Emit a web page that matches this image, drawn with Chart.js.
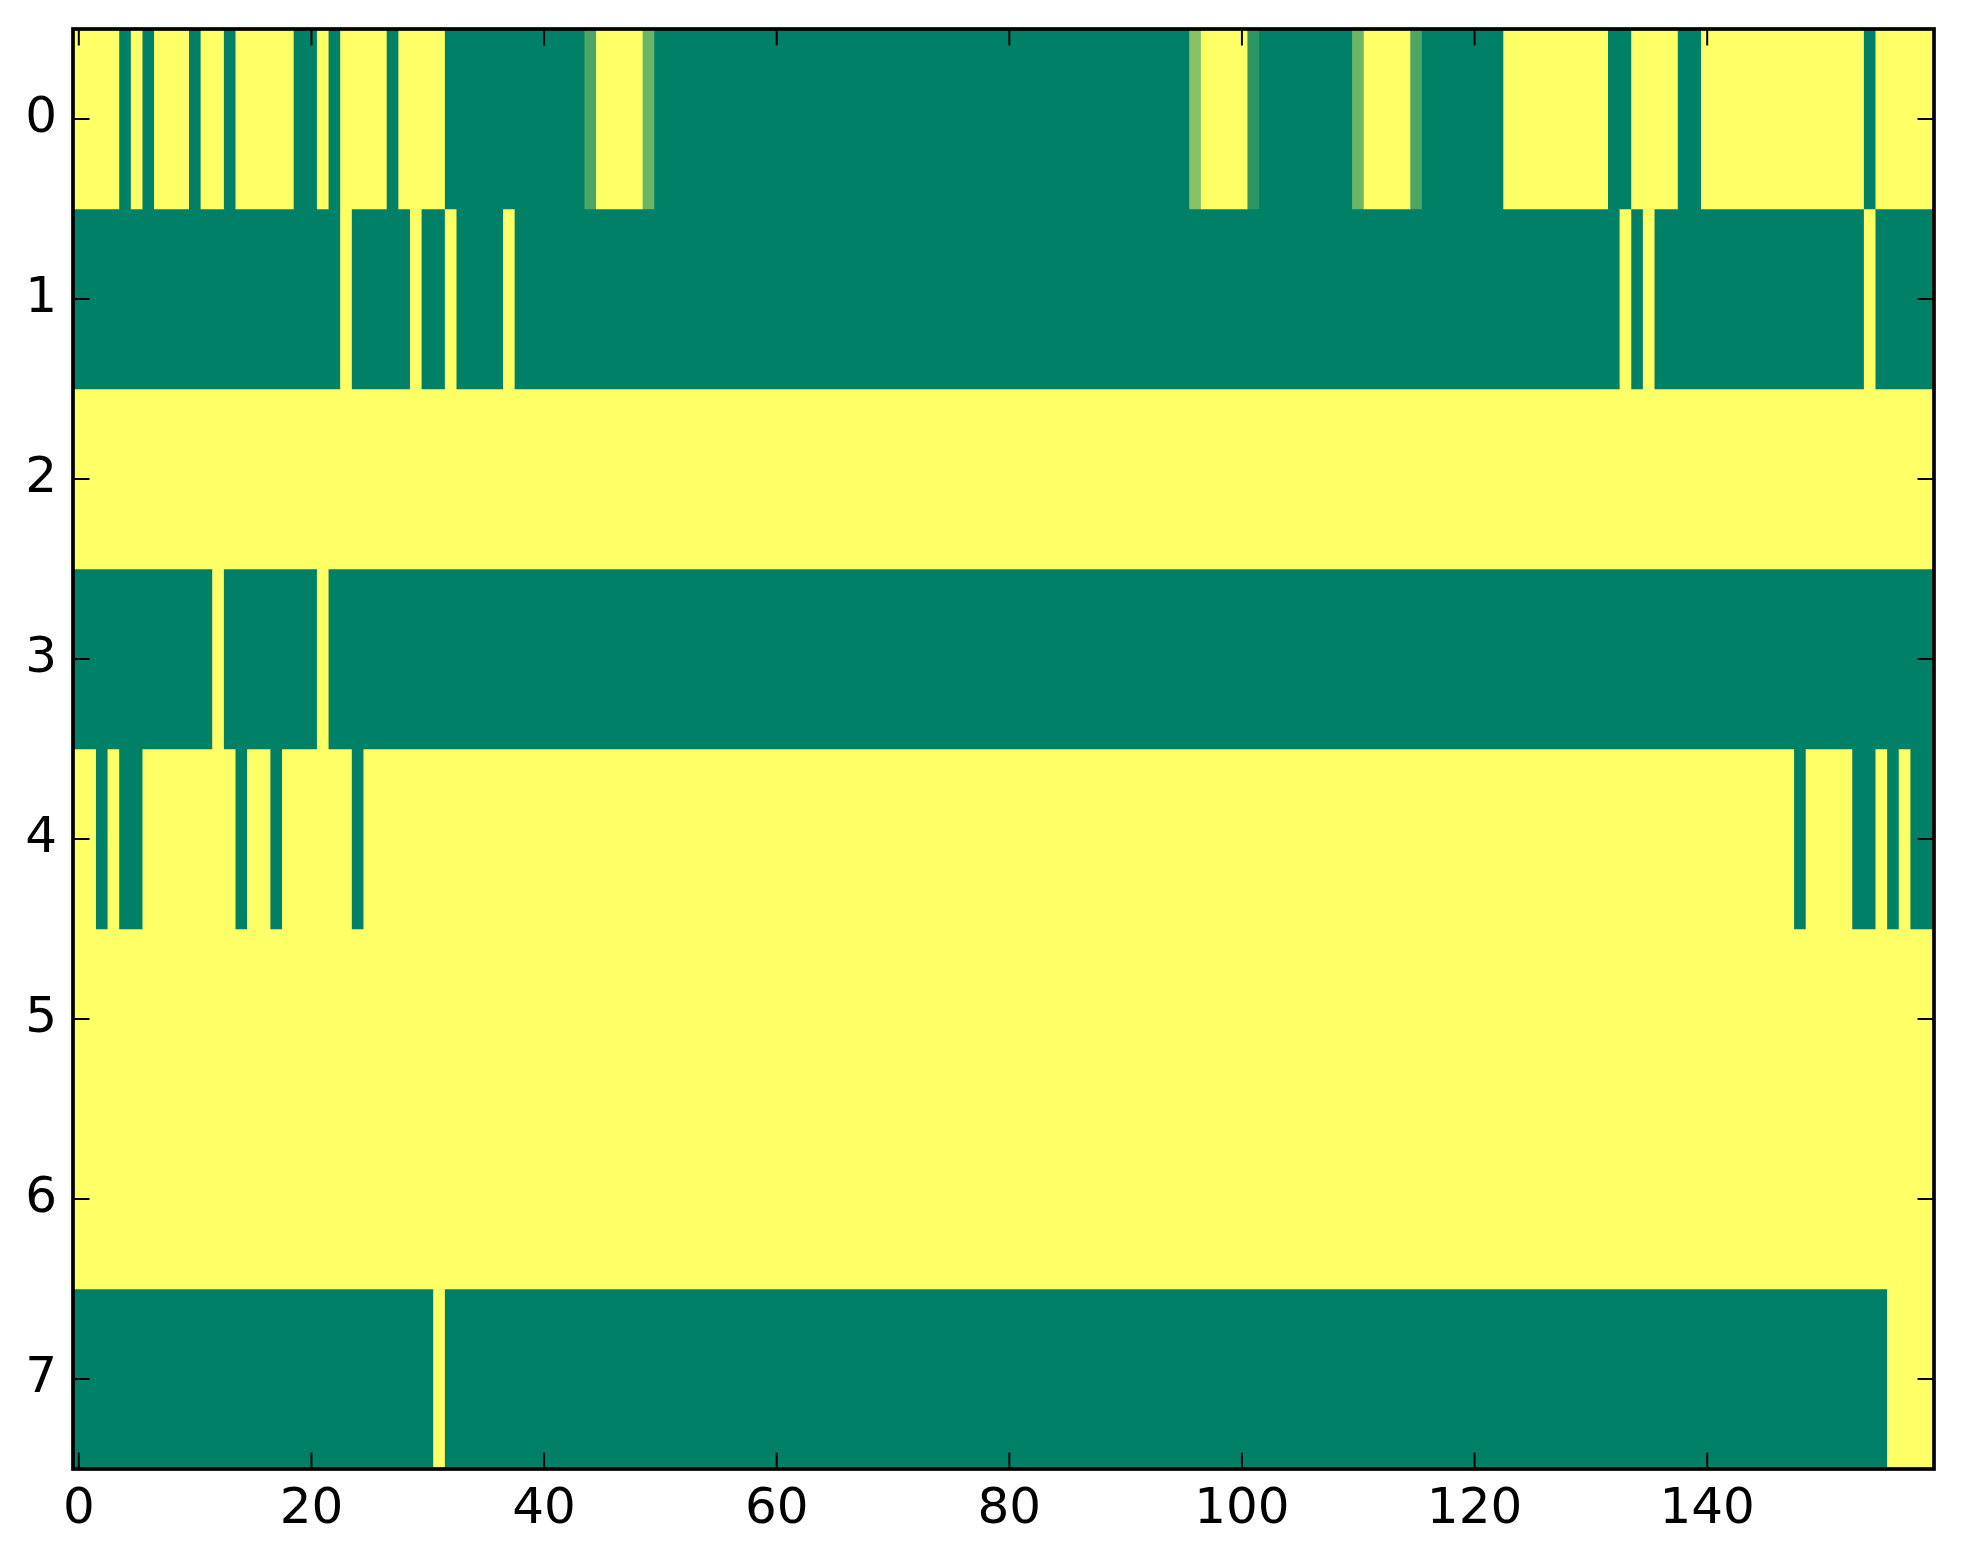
<!DOCTYPE html>
<html>
<head>
<meta charset="utf-8">
<script src="https://cdn.jsdelivr.net/npm/chart.js@4.4.0/dist/chart.umd.min.js"></script>
<style>
html,body{margin:0;padding:0;background:#ffffff;overflow:hidden}
#wrap{width:1963px;height:1564px;position:relative}
</style>
</head>
<body>
<div id="wrap"><canvas id="c" width="1963" height="1564"></canvas></div>
<script>
// ---- data (rows 0..7, columns 0..159; 0 = low, 1 = high on the "summer" colormap) ----
const rowLabels = ['0','1','2','3','4','5','6','7'];
const xTickValues = [0,20,40,60,80,100,120,140];

const row0 = [
 1,1,1,1,0,1,0,1,1,1,0,1,1,0,1,1,1,1,1,0,
 0,1,0,1,1,1,1,0,1,1,1,1,0,0,0,0,0,0,0,0,
 0,0,0,0,0.3,1,1,1,1,0.42,0,0,0,0,0,0,0,0,0,0,
 0,0,0,0,0,0,0,0,0,0,0,0,0,0,0,0,0,0,0,0,
 0,0,0,0,0,0,0,0,0,0,0,0,0,0,0,0,0.53,1,1,1,
 1,0.18,0,0,0,0,0,0,0,0,0.42,1,1,1,1,0.3,0,0,0,0,
 0,0,0,1,1,1,1,1,1,1,1,1,0,0,1,1,1,1,0,0,
 1,1,1,1,1,1,1,1,1,1,1,1,1,1,0,1,1,1,1,1
];
const row1 = [
 0,0,0,0,0,0,0,0,0,0,0,0,0,0,0,0,0,0,0,0,
 0,0,0,1,0,0,0,0,0,1,0,0,1,0,0,0,0,1,0,0,
 0,0,0,0,0,0,0,0,0,0,0,0,0,0,0,0,0,0,0,0,
 0,0,0,0,0,0,0,0,0,0,0,0,0,0,0,0,0,0,0,0,
 0,0,0,0,0,0,0,0,0,0,0,0,0,0,0,0,0,0,0,0,
 0,0,0,0,0,0,0,0,0,0,0,0,0,0,0,0,0,0,0,0,
 0,0,0,0,0,0,0,0,0,0,0,0,0,1,0,1,0,0,0,0,
 0,0,0,0,0,0,0,0,0,0,0,0,0,0,1,0,0,0,0,0
];
const row2 = [
 1,1,1,1,1,1,1,1,1,1,1,1,1,1,1,1,1,1,1,1,
 1,1,1,1,1,1,1,1,1,1,1,1,1,1,1,1,1,1,1,1,
 1,1,1,1,1,1,1,1,1,1,1,1,1,1,1,1,1,1,1,1,
 1,1,1,1,1,1,1,1,1,1,1,1,1,1,1,1,1,1,1,1,
 1,1,1,1,1,1,1,1,1,1,1,1,1,1,1,1,1,1,1,1,
 1,1,1,1,1,1,1,1,1,1,1,1,1,1,1,1,1,1,1,1,
 1,1,1,1,1,1,1,1,1,1,1,1,1,1,1,1,1,1,1,1,
 1,1,1,1,1,1,1,1,1,1,1,1,1,1,1,1,1,1,1,1
];
const row3 = [
 0,0,0,0,0,0,0,0,0,0,0,0,1,0,0,0,0,0,0,0,
 0,1,0,0,0,0,0,0,0,0,0,0,0,0,0,0,0,0,0,0,
 0,0,0,0,0,0,0,0,0,0,0,0,0,0,0,0,0,0,0,0,
 0,0,0,0,0,0,0,0,0,0,0,0,0,0,0,0,0,0,0,0,
 0,0,0,0,0,0,0,0,0,0,0,0,0,0,0,0,0,0,0,0,
 0,0,0,0,0,0,0,0,0,0,0,0,0,0,0,0,0,0,0,0,
 0,0,0,0,0,0,0,0,0,0,0,0,0,0,0,0,0,0,0,0,
 0,0,0,0,0,0,0,0,0,0,0,0,0,0,0,0,0,0,0,0
];
const row4 = [
 1,1,0,1,0,0,1,1,1,1,1,1,1,1,0,1,1,0,1,1,
 1,1,1,1,0,1,1,1,1,1,1,1,1,1,1,1,1,1,1,1,
 1,1,1,1,1,1,1,1,1,1,1,1,1,1,1,1,1,1,1,1,
 1,1,1,1,1,1,1,1,1,1,1,1,1,1,1,1,1,1,1,1,
 1,1,1,1,1,1,1,1,1,1,1,1,1,1,1,1,1,1,1,1,
 1,1,1,1,1,1,1,1,1,1,1,1,1,1,1,1,1,1,1,1,
 1,1,1,1,1,1,1,1,1,1,1,1,1,1,1,1,1,1,1,1,
 1,1,1,1,1,1,1,1,0,1,1,1,1,0,0,1,0,1,0,0
];
const row5 = [
 1,1,1,1,1,1,1,1,1,1,1,1,1,1,1,1,1,1,1,1,
 1,1,1,1,1,1,1,1,1,1,1,1,1,1,1,1,1,1,1,1,
 1,1,1,1,1,1,1,1,1,1,1,1,1,1,1,1,1,1,1,1,
 1,1,1,1,1,1,1,1,1,1,1,1,1,1,1,1,1,1,1,1,
 1,1,1,1,1,1,1,1,1,1,1,1,1,1,1,1,1,1,1,1,
 1,1,1,1,1,1,1,1,1,1,1,1,1,1,1,1,1,1,1,1,
 1,1,1,1,1,1,1,1,1,1,1,1,1,1,1,1,1,1,1,1,
 1,1,1,1,1,1,1,1,1,1,1,1,1,1,1,1,1,1,1,1
];
const row6 = [
 1,1,1,1,1,1,1,1,1,1,1,1,1,1,1,1,1,1,1,1,
 1,1,1,1,1,1,1,1,1,1,1,1,1,1,1,1,1,1,1,1,
 1,1,1,1,1,1,1,1,1,1,1,1,1,1,1,1,1,1,1,1,
 1,1,1,1,1,1,1,1,1,1,1,1,1,1,1,1,1,1,1,1,
 1,1,1,1,1,1,1,1,1,1,1,1,1,1,1,1,1,1,1,1,
 1,1,1,1,1,1,1,1,1,1,1,1,1,1,1,1,1,1,1,1,
 1,1,1,1,1,1,1,1,1,1,1,1,1,1,1,1,1,1,1,1,
 1,1,1,1,1,1,1,1,1,1,1,1,1,1,1,1,1,1,1,1
];
const row7 = [
 0,0,0,0,0,0,0,0,0,0,0,0,0,0,0,0,0,0,0,0,
 0,0,0,0,0,0,0,0,0,0,0,1,0,0,0,0,0,0,0,0,
 0,0,0,0,0,0,0,0,0,0,0,0,0,0,0,0,0,0,0,0,
 0,0,0,0,0,0,0,0,0,0,0,0,0,0,0,0,0,0,0,0,
 0,0,0,0,0,0,0,0,0,0,0,0,0,0,0,0,0,0,0,0,
 0,0,0,0,0,0,0,0,0,0,0,0,0,0,0,0,0,0,0,0,
 0,0,0,0,0,0,0,0,0,0,0,0,0,0,0,0,0,0,0,0,
 0,0,0,0,0,0,0,0,0,0,0,0,0,0,0,0,1,1,1,1
];
const rows = [row0,row1,row2,row3,row4,row5,row6,row7];

// matplotlib "summer" colormap
function summer(v){
  return 'rgb(' + Math.round(255*v) + ',' + Math.round(127.5 + 127.5*v) + ',102)';
}

// one floating-bar dataset per row; consecutive equal cells are merged into one run
const datasets = rows.map((vals, r) => {
  const data = [], colors = [];
  let start = 0;
  for (let i = 1; i <= vals.length; i++) {
    if (i === vals.length || vals[i] !== vals[start]) {
      data.push({ x: [start - 0.5, i - 0.5], y: rowLabels[r] });
      colors.push(summer(vals[start]));
      start = i;
    }
  }
  return {
    data,
    backgroundColor: colors,
    borderWidth: 0,
    grouped: false,
    barPercentage: 1,
    categoryPercentage: 1
  };
});

const frame = {
  id: 'frame',
  afterDraw(chart) {
    const { ctx, chartArea: a, scales: { x, y } } = chart;
    const len = 16.5;
    ctx.save();
    ctx.strokeStyle = '#000';
    ctx.lineWidth = 2;
    ctx.beginPath();
    xTickValues.forEach(v => {
      const px = x.getPixelForValue(v);
      ctx.moveTo(px, a.bottom); ctx.lineTo(px, a.bottom - len);
      ctx.moveTo(px, a.top); ctx.lineTo(px, a.top + len);
    });
    rowLabels.forEach((l, i) => {
      const py = y.getPixelForValue(i);
      ctx.moveTo(a.left, py); ctx.lineTo(a.left + len, py);
      ctx.moveTo(a.right, py); ctx.lineTo(a.right - len, py);
    });
    ctx.stroke();
    ctx.lineWidth = 3.7;
    ctx.strokeRect(a.left, a.top, a.right - a.left, a.bottom - a.top);
    ctx.restore();
  }
};

const tickFont = { family: 'DejaVu Sans', size: 50 };

new Chart(document.getElementById('c'), {
  type: 'bar',
  data: { labels: rowLabels, datasets },
  options: {
    indexAxis: 'y',
    responsive: false,
    animation: false,
    layout: { padding: { top: 29, right: 29, left: 0, bottom: 0 } },
    plugins: { legend: { display: false }, tooltip: { enabled: false } },
    scales: {
      x: {
        type: 'linear',
        min: -0.5,
        max: 159.5,
        grid: { display: false, drawTicks: false },
        border: { display: false },
        afterBuildTicks: s => { s.ticks = xTickValues.map(v => ({ value: v })); },
        afterFit: s => { s.height = 95; s.paddingLeft = 0; s.paddingRight = 0; },
        ticks: { font: tickFont, color: '#000', padding: 11, maxRotation: 0, autoSkip: false }
      },
      y: {
        type: 'category',
        labels: rowLabels,
        offset: true,
        grid: { display: false, drawTicks: false },
        border: { display: false },
        afterFit: s => { s.width = 73; s.paddingTop = 0; s.paddingBottom = 0; },
        ticks: { font: tickFont, color: '#000', padding: 16 }
      }
    }
  },
  plugins: [frame]
});
</script>
</body>
</html>
